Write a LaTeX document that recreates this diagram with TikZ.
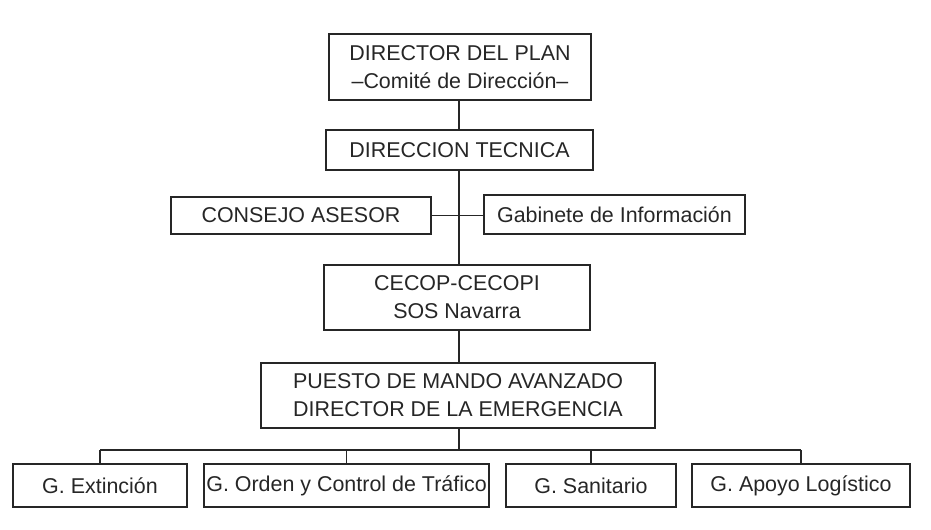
\documentclass[tikz,border=0pt]{standalone}
\usepackage{fontspec}
\setmainfont{Liberation Sans}
\begin{document}
\begin{tikzpicture}[x=0.02cm,y=-0.02cm,
  bx/.style={draw=black!85,line width=1pt,inner sep=0pt,align=center,font=\fontsize{12.2}{16}\selectfont,text=black!85},
  ln/.style={draw=black!85,line width=1pt}]
\useasboundingbox (0,0) rectangle (931,529);
\newcommand{\bxat}[6]{\node[bx,minimum width=#3*0.02cm-1pt,minimum height=#4*0.02cm-1pt] (#5) at (#1+#3/2,#2+#4/2) {#6};}
\bxat{328}{33}{264}{68}{dir}{DIRECTOR DEL PLAN\\--Comité de Dirección--}
\bxat{325}{129}{269}{42}{tec}{DIRECCION TECNICA}
\bxat{170}{196}{262}{39}{con}{CONSEJO ASESOR}
\bxat{483}{194}{263}{41}{gab}{Gabinete de Información}
\bxat{323}{264}{268}{67}{cec}{CECOP-CECOPI\\SOS Navarra}
\bxat{260}{362}{396}{67}{pue}{PUESTO DE MANDO AVANZADO\\DIRECTOR DE LA EMERGENCIA}
\bxat{12}{463}{176}{45}{g1}{G. Extinción}
\bxat{203}{463}{287}{45}{g2}{G. Orden y Control de Tráfico}
\bxat{505}{463}{172}{45}{g3}{G. Sanitario}
\bxat{691}{463}{220}{45}{g4}{G. Apoyo Logístico}
\coordinate (bus) at (459,450);
\draw[ln] (459,101) -- (459,129);
\draw[ln] (459,171) -- (459,264);
\draw[ln] (con.east) -- (gab.west |- con.east);
\draw[ln] (459,331) -- (459,362);
\draw[ln] (459,429) -- (bus);
\draw[ln] (g1.north |- bus) -- (g4.north |- bus);
\foreach \g in {g1,g2,g3,g4} \draw[ln] (\g.north |- bus) -- (\g.north);
\end{tikzpicture}
\end{document}
